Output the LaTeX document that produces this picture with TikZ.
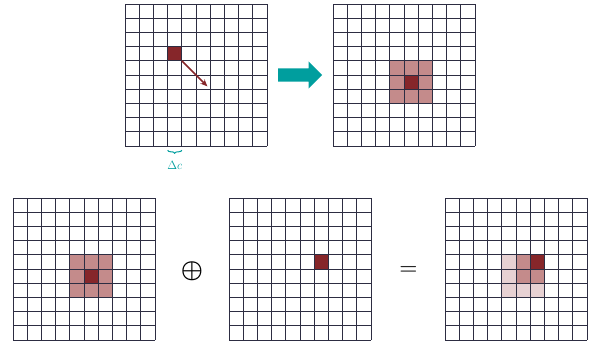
\documentclass[tikz,border=0pt]{standalone}
\usepackage{amsmath}
\usetikzlibrary{shapes.arrows,decorations.pathreplacing,arrows.meta}

\definecolor{kernelred}{RGB}{134,38,42}
\definecolor{kernelmid}{RGB}{196,139,139}
\definecolor{kernellow}{RGB}{231,209,211}
\definecolor{shiftteal}{RGB}{0,158,158}
\definecolor{gridnavy}{RGB}{45,45,66}

% 10x10 cell lines, drawn in cell units
\newcommand{\cellgrid}{%
  \foreach \k in {0,...,10} {
    \draw[gridline] (\k,0) -- (\k,10);
    \draw[gridline] (0,\k) -- (10,\k);
  }}

\begin{document}
\begin{tikzpicture}[x=1pt, y=-1pt,
    gridline/.style={draw=gridnavy, line width=0.9pt},
    cellpane/.style={shift={#1}, x=14.2pt, y=-14.2pt}]
    \useasboundingbox (0,0) rectangle (595,348);

    % input map with offset
    \begin{scope}[cellpane={(125,4)}]
        \fill[kernelred] (3,3) rectangle (4,4);
        \cellgrid
        \coordinate (off0) at (4,4);
        \coordinate (off1) at (5.8,5.8);
        \draw[kernelred, line width=1.6pt, -{Stealth[length=7pt,width=6pt]}] (off0) -- (off1);
        \draw[shiftteal, line width=1pt, decorate, decoration={brace, mirror, amplitude=3pt}] (3,10.3) -- (4,10.3);
        \node[shiftteal, font=\large] (dc) at (3.5,11.4) {$\Delta c$};
    \end{scope}

    % shift arrow
    \node[single arrow, fill=shiftteal, anchor=tail, minimum height=44pt,
          inner xsep=0pt, inner ysep=6.5pt, single arrow head extend=7pt] (move) at (278,75) {};

    % neighbourhood
    \begin{scope}[cellpane={(333,4)}]
        \fill[kernelmid] (4,4) rectangle (7,7);
        \fill[kernelred] (5,5) rectangle (6,6);
        \cellgrid
    \end{scope}

    % bottom row: kernel + offset = shifted kernel
    \begin{scope}[cellpane={(13,198)}]
        \fill[kernelmid] (4,4) rectangle (7,7);
        \fill[kernelred] (5,5) rectangle (6,6);
        \cellgrid
    \end{scope}
    \node[font=\fontsize{27}{27}\selectfont] (plus) at (192,271) {$\boldsymbol{\oplus}$};

    \begin{scope}[cellpane={(229,198)}]
        \fill[kernelred] (6,4) rectangle (7,5);
        \cellgrid
    \end{scope}
    \node[font=\fontsize{20}{20}\selectfont, text=black!85] (eq) at (408.5,270.5) {$\boldsymbol{=}$};

    \begin{scope}[cellpane={(445,198)}]
        \fill[kernellow] (4,4) rectangle (7,7);
        \fill[kernelmid] (5,4) rectangle (7,6);
        \fill[kernelred] (6,4) rectangle (7,5);
        \cellgrid
    \end{scope}
\end{tikzpicture}
\end{document}
